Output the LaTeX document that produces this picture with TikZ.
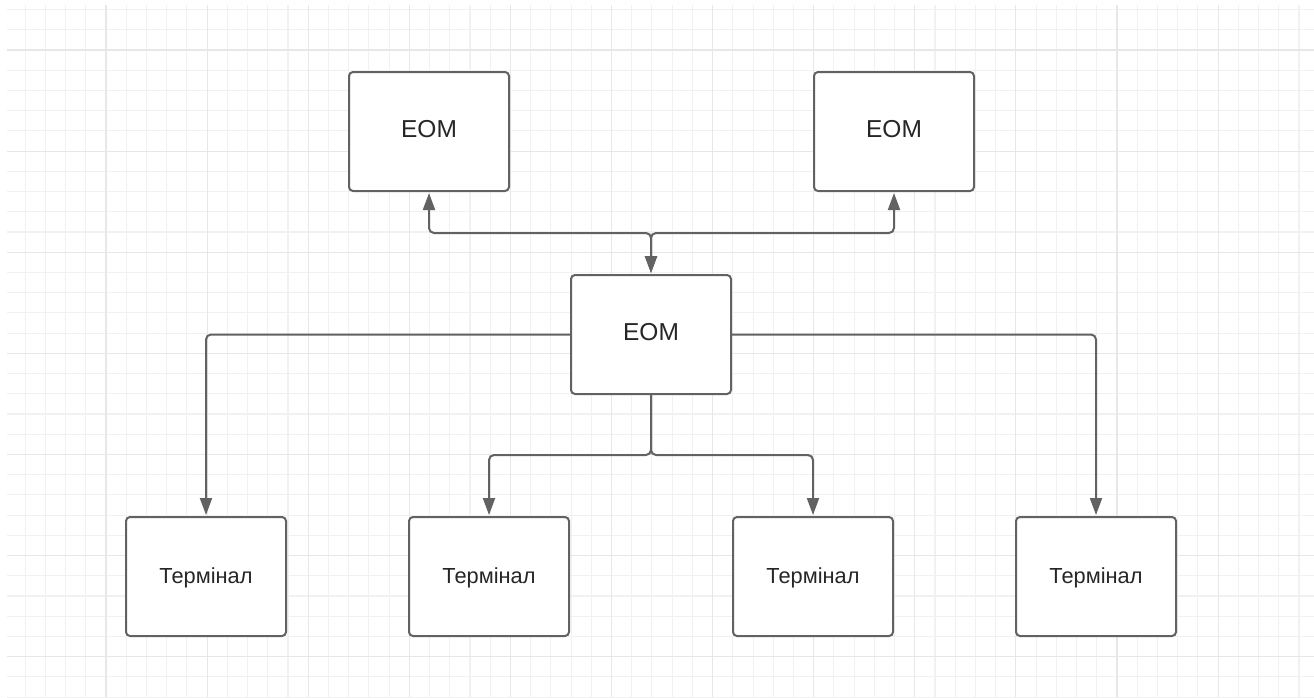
\documentclass[tikz,border=0pt]{standalone}
\usepackage{fontspec}
\setmainfont{Liberation Sans}
\usetikzlibrary{arrows.meta}
\definecolor{edge}{HTML}{626262}
\definecolor{gridminor}{HTML}{F1F1F1}
\definecolor{gridmajor}{HTML}{E7E7E7}
\definecolor{ink}{HTML}{262626}
\begin{document}
\begin{tikzpicture}[x=1pt,y=-1pt,
  box/.style={draw=edge, line width=2pt, fill=white, rounded corners=4pt,
    minimum width=160pt, minimum height=119pt, inner sep=0pt, text=ink},
  eom/.style={box, font=\fontsize{24.5}{29}\selectfont, text height=17.5pt, text depth=6pt},
  term/.style={box, font=\fontsize{21.8}{26}\selectfont, text height=15.6pt, text depth=1pt},
  conn/.style={draw=edge, line width=2pt, rounded corners=5pt},
  tip/.style={-{Triangle[length=17pt,width=12pt]}},
  tips/.style={{Triangle[length=17pt,width=12pt]}-{Triangle[length=17pt,width=12pt]}}]

% page and background grid
\fill[white] (0,0) rectangle (1314,697);
\useasboundingbox (0,0) rectangle (1314,697);
\begin{scope}
  \clip (7,5) rectangle (1314,697);
  \foreach \i in {-5,...,60}
    \draw[gridminor, line width=1.1pt] ({106+20.22*\i},5) -- ++(0,692);
  \foreach \j in {-3,...,35}
    \draw[gridminor, line width=1.1pt] (7,{50+20.22*\j}) -- ++(1307,0);
  \foreach \i in {-1,...,12}
    \draw[gridmajor, line width=1.1pt] ({106+101.1*\i},5) -- ++(0,692);
  \foreach \j in {-1,...,7}
    \draw[gridmajor, line width=1.1pt] (7,{50+101.1*\j}) -- ++(1307,0);
\end{scope}

% computers
\node[eom] (eomL) at (429,131.5) {EOM};
\node[eom] (eomR) at (894,131.5) {EOM};
\node[eom] (eomC) at (651,334.5) {EOM};

% terminals
\node[term] (t1) at (206,576.5) {Термінал};
\node[term] (t2) at (489,576.5) {Термінал};
\node[term] (t3) at (813,576.5) {Термінал};
\node[term] (t4) at (1096,576.5) {Термінал};

% branching points
\coordinate (up) at (651,233);
\coordinate (down) at (651,455);

% links between the computers
\draw[conn, tips, shorten <=1pt, shorten >=1pt] (eomL.south) |- (up) -- (eomC.north);
\draw[conn, tips, shorten <=1pt, shorten >=1pt] (eomR.south) |- (up) -- (eomC.north);

% links to the terminals
\draw[conn, tip, shorten >=1pt] (eomC.west) -| (t1.north);
\draw[conn, tip, shorten >=1pt] (eomC.east) -| (t4.north);
\draw[conn, tip, shorten >=1pt] (eomC.south) -- (down) -| (t2.north);
\draw[conn, tip, shorten >=1pt] (eomC.south) -- (down) -| (t3.north);
\end{tikzpicture}
\end{document}
